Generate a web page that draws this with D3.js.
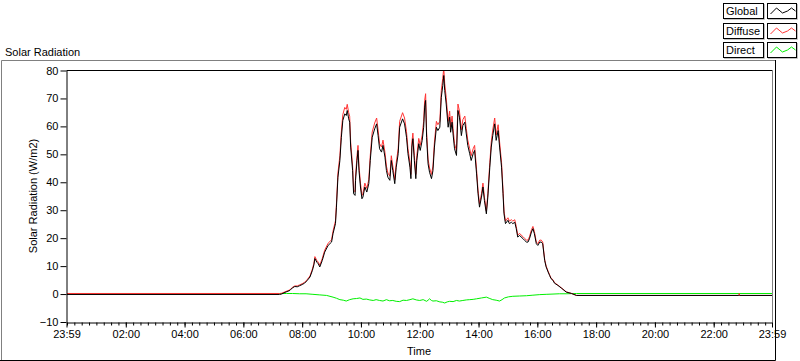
<!DOCTYPE html>
<html>
<head>
<meta charset="utf-8">
<script src="https://cdn.jsdelivr.net/npm/d3@7"></script>
<style>
  body { margin: 0; background: #fff; }
  svg { display: block; font-family: "Liberation Sans", Arial, sans-serif; font-size: 11px; }
</style>
</head>
<body>
<svg id="chart" width="800" height="361"></svg>
<script>
// data (times are HH:MM of the day)
const times = ['00:00','07:14','07:18','07:25','07:35','07:40','07:45','07:50','07:55','08:00','08:05','08:10','08:16','08:21','08:24','08:26','08:30','08:33','08:36','08:41','08:46','08:53','09:00','09:03','09:08','09:10','09:13','09:17','09:20','09:23','09:27','09:30','09:32','09:35','09:37','09:39','09:43','09:45','09:48','09:49','09:52','09:54','09:56','09:59','10:02','10:04','10:08','10:12','10:16','10:19','10:23','10:28','10:32','10:35','10:38','10:42','10:45','10:49','10:52','10:55','10:59','11:02','11:05','11:09','11:12','11:16','11:19','11:25','11:29','11:33','11:36','11:40','11:42','11:44','11:46','11:49','11:52','11:54','11:58','12:01','12:05','12:08','12:10','12:12','12:14','12:17','12:20','12:24','12:27','12:30','12:34','12:37','12:41','12:44','12:47','12:49','12:51','12:54','12:58','13:01','13:03','13:06','13:08','13:11','13:15','13:18','13:21','13:25','13:28','13:32','13:35','13:38','13:42','13:45','13:49','13:52','13:56','13:59','14:02','14:06','14:09','14:12','14:16','14:19','14:23','14:26','14:29','14:33','14:36','14:40','14:43','14:47','14:50','14:52','14:55','15:00','15:03','15:07','15:10','15:14','15:17','15:20','15:24','15:27','15:31','15:34','15:38','15:41','15:44','15:48','15:51','15:54','15:58','16:01','16:05','16:08','16:11','16:15','16:18','16:22','16:25','16:28','16:32','16:35','16:42','16:50','16:59','17:10','17:20','22:51','22:52','22:53','23:59'];

const globalVals = [-0.15,-0.15,0.0,0.6,1.3,2.2,2.7,2.6,3.0,3.4,3.9,4.8,6.1,8.5,10.5,12.7,11.4,10.8,9.7,12.0,15.0,17.4,18.6,21.6,25.2,31.1,41.8,47.8,56.1,62.1,64.5,63.9,65.7,62.7,61.5,52.6,44.2,35.9,35.3,40.7,47.8,51.4,44.2,38.3,34.1,34.7,38.3,36.5,39.5,47.8,56.1,59.1,60.9,56.7,52.0,50.8,53.2,49.0,44.2,41.8,40.7,47.8,44.2,39.5,45.4,50.2,59.7,62.7,60.9,56.1,50.2,45.4,41.3,52.6,55.6,47.8,41.3,47.8,53.8,51.4,55.0,59.7,66.9,69.3,56.1,46.6,43.6,41.3,44.2,52.6,59.7,58.5,59.7,70.4,74.6,78.2,72.8,68.0,59.7,63.3,57.9,61.5,57.3,52.0,49.6,65.7,63.3,56.7,60.3,61.5,57.3,53.2,50.2,47.8,50.2,51.4,43.0,35.9,31.1,34.7,38.3,33.5,28.7,34.7,45.4,52.6,56.7,60.9,55.0,58.5,52.6,45.4,35.9,28.7,25.2,26.4,25.2,25.7,25.2,25.7,23.4,20.4,21.0,20.4,19.8,19.2,18.6,18.6,19.8,22.2,23.4,21.6,18.0,17.4,18.6,18.6,18.0,12.0,9.7,7.9,6.7,5.5,4.9,3.9,3.1,2.0,0.7,0.2,-0.5,-0.5,-0.5,-0.5,-0.5];

const diffuseVals = [0.2,0.2,0.3,0.8,1.5,2.4,2.9,2.9,3.3,3.7,4.2,5.1,6.5,9.0,11.0,13.4,12.0,11.4,10.3,12.7,15.7,18.2,19.4,22.5,26.2,32.3,43.3,49.5,58.0,64.2,66.8,66.1,67.9,64.9,63.6,54.4,45.8,37.2,36.6,42.2,49.5,53.2,45.8,39.7,35.3,36.0,39.7,37.8,40.9,49.5,58.0,61.2,63.0,58.7,53.8,52.6,55.1,50.7,45.8,43.3,42.2,49.5,45.8,40.9,47.0,52.0,61.8,64.9,63.0,58.1,52.0,47.0,42.8,54.4,57.6,49.5,42.8,49.5,55.7,53.2,56.9,61.8,69.2,71.7,58.1,48.3,45.1,42.8,45.8,54.4,61.8,60.6,61.8,72.8,77.2,80.8,75.3,70.4,61.8,65.5,59.9,63.7,59.3,53.8,51.3,68.0,65.5,58.7,62.4,63.7,59.3,55.1,52.0,49.5,52.0,53.2,44.5,37.2,32.2,35.9,39.7,34.7,29.7,35.9,47.0,54.4,58.7,63.0,56.9,60.6,54.4,47.0,37.2,29.7,26.1,27.3,26.1,26.6,26.1,26.6,24.2,21.1,21.7,21.1,20.5,19.9,19.3,19.3,20.5,23.0,24.2,22.4,18.6,18.0,19.3,19.3,18.6,12.4,10.0,8.2,6.9,5.7,5.1,4.1,3.2,2.1,0.8,0.2,-0.5,-0.5,0.2,-0.5,-0.5];

const directTimes = ['00:00','07:14','07:28','07:40','07:55','08:08','08:22','08:36','08:50','09:03','09:10','09:17','09:24','09:30','09:37','09:44','09:51','09:58','10:04','10:11','10:18','10:25','10:31','10:38','10:45','10:52','10:58','11:05','11:12','11:19','11:26','11:33','11:40','11:46','11:53','12:00','12:07','12:14','12:17','12:20','12:24','12:27','12:34','12:41','12:46','12:51','12:56','13:01','13:08','13:15','13:21','13:28','13:35','13:42','13:49','13:56','14:06','14:16','14:23','14:29','14:36','14:43','14:48','14:53','15:01','15:10','15:24','15:38','15:51','16:05','16:18','16:32','16:45','16:59','17:20','23:59'];

const directVals = [0.2,0.2,0.2,0.2,0.1,0.1,-0.1,-0.3,-0.5,-1.1,-1.5,-2.0,-2.2,-2.5,-2.0,-1.7,-1.6,-1.4,-1.9,-1.8,-2.1,-2.3,-2.0,-2.3,-2.5,-2.0,-2.4,-2.3,-2.6,-2.7,-2.2,-2.3,-2.0,-1.7,-2.1,-2.3,-2.0,-2.6,-2.2,-1.7,-2.3,-2.5,-2.4,-2.8,-2.9,-3.2,-2.8,-2.6,-2.7,-2.3,-2.5,-2.3,-2.1,-2.0,-1.9,-1.7,-1.4,-1.1,-1.6,-2.0,-2.2,-2.5,-2.0,-1.4,-1.0,-0.8,-0.7,-0.6,-0.4,-0.2,-0.1,0.0,0.1,0.1,0.2,0.2];

const yTicks = [-10, 0, 10, 20, 30, 40, 50, 60, 70, 80];
const xTickLabels = ['23:59','02:00','04:00','06:00','08:00','10:00','12:00','14:00','16:00','18:00','20:00','22:00','23:59'];
const seriesNames = ['Global', 'Diffuse', 'Direct'];
const seriesColors = ['#000000', '#ff3333', '#00f000'];

// layout
const plot = { left: 66, right: 772, top: 70, bottom: 322 };

const toDate = (s, prevDay) => {
    const [h, m] = s.split(':').map(Number);
    return new Date(2000, 0, prevDay ? 1 : 2, h, m);
};

const svg = d3.select('#chart');

const xScale = d3.scaleTime()
    .domain([toDate('23:59', true), toDate('23:59')])
    .range([plot.left + 0.5, plot.right]);
const yScale = d3.scaleLinear()
    .domain([-10, 80])
    .range([plot.bottom, plot.top + 0.5]);

// outer panel (sunken look)
svg.append('path')
    .attr('d', 'M1.5,360 V60.5 H775')
    .attr('fill', 'none')
    .attr('stroke', '#808080');
svg.append('path')
    .attr('d', 'M775.5,60 V360.5 H0')
    .attr('fill', 'none')
    .attr('stroke', '#000');

svg.append('text')
    .attr('x', 5)
    .attr('y', 56)
    .text('Solar Radiation');

// plot frame
svg.append('path')
    .attr('d', `M${plot.left + 0.5},${plot.top + 0.5} H${plot.right + 0.5}`)
    .attr('stroke', '#000');
svg.append('path')
    .attr('d', `M${plot.right + 0.5},${plot.top + 0.5} V${plot.bottom + 0.5}`)
    .attr('stroke', '#808080');

svg.append('clipPath').attr('id', 'clip')
    .append('rect')
    .attr('x', plot.left + 1)
    .attr('y', plot.top + 1)
    .attr('width', plot.right - plot.left - 1)
    .attr('height', plot.bottom - plot.top - 1);

const line = d3.line()
    .x(d => xScale(d.t))
    .y(d => yScale(d.v));

const globalData = times.map((t, i) => ({ t: toDate(t), v: globalVals[i] }));
const diffuseData = times.map((t, i) => ({ t: toDate(t), v: diffuseVals[i] }));
const directData = directTimes.map((t, i) => ({ t: toDate(t), v: directVals[i] }));

// drawn Direct, Diffuse, then Global on top
const gLines = svg.append('g').attr('clip-path', 'url(#clip)');
[[directData, seriesColors[2]], [diffuseData, seriesColors[1]], [globalData, seriesColors[0]]]
    .forEach(([data, color]) => {
        gLines.append('path')
            .datum(data)
            .attr('fill', 'none')
            .attr('stroke', color)
            .attr('stroke-width', 1)
            .attr('d', line);
    });

// y axis
const yAxis = d3.axisLeft(yScale).tickValues(yTicks).tickSizeInner(6).tickSizeOuter(0).tickPadding(2);
const gY = svg.append('g')
    .attr('transform', `translate(${plot.left + 0.5},0)`)
    .call(yAxis);
gY.selectAll('text').attr('font-size', 11).attr('fill', '#000').attr('font-family', null);
gY.select('.domain').attr('stroke', '#000');

svg.append('text')
    .attr('transform', `translate(37,${(plot.top + plot.bottom) / 2}) rotate(-90)`)
    .attr('text-anchor', 'middle')
    .text('Solar Radiation (W/m2)');

// x axis: minor ticks every 15 min, labelled ticks every 2 h
const xMinor = d3.axisBottom(xScale)
    .ticks(d3.timeMinute.every(15))
    .tickSizeInner(3).tickSizeOuter(0)
    .tickFormat('');
const gXMinor = svg.append('g')
    .attr('transform', `translate(0,${plot.bottom + 0.5})`)
    .call(xMinor);
gXMinor.select('.domain').remove();

const xTickDates = xTickLabels.map((s, i) => toDate(s, i === 0));
const xAxis = d3.axisBottom(xScale)
    .tickValues(xTickDates)
    .tickSizeInner(5).tickSizeOuter(0).tickPadding(3)
    .tickFormat(d3.timeFormat('%H:%M'));
const gX = svg.append('g')
    .attr('transform', `translate(0,${plot.bottom + 0.5})`)
    .call(xAxis);
gX.selectAll('text').attr('font-size', 11).attr('fill', '#000').attr('font-family', null);
gX.select('.domain').attr('stroke', '#000');

svg.append('text')
    .attr('x', (plot.left + plot.right) / 2)
    .attr('y', 355)
    .attr('text-anchor', 'middle')
    .text('Time');

// legend
const swatchPts = [[3, 11], [9, 5], [15, 10], [20, 8], [24, 5], [28, 8]];
const legend = svg.append('g');
seriesNames.forEach((name, i) => {
    const y0 = 3 + i * 19.5;
    const row = legend.append('g').attr('transform', `translate(0,${Math.round(y0)})`);
    row.append('rect')
        .attr('x', 723.5).attr('y', 0.5)
        .attr('width', 40).attr('height', 15)
        .attr('fill', '#fff').attr('stroke', '#000');
    row.append('path')
        .attr('d', 'M724,16.5 H764.5 V1')
        .attr('fill', 'none').attr('stroke', '#c0c0c0');
    row.append('text')
        .attr('x', 726).attr('y', 12)
        .text(name);
    row.append('rect')
        .attr('x', 767.5).attr('y', 0.5)
        .attr('width', 29).attr('height', 15)
        .attr('fill', '#fff').attr('stroke', '#000');
    row.append('path')
        .attr('d', 'M768,16.5 H797.5 V1')
        .attr('fill', 'none').attr('stroke', '#c0c0c0');
    row.append('path')
        .attr('d', d3.line()(swatchPts.map(p => [767.5 + p[0], p[1]])))
        .attr('fill', 'none')
        .attr('stroke', seriesColors[i]);
});
</script>
</body>
</html>
